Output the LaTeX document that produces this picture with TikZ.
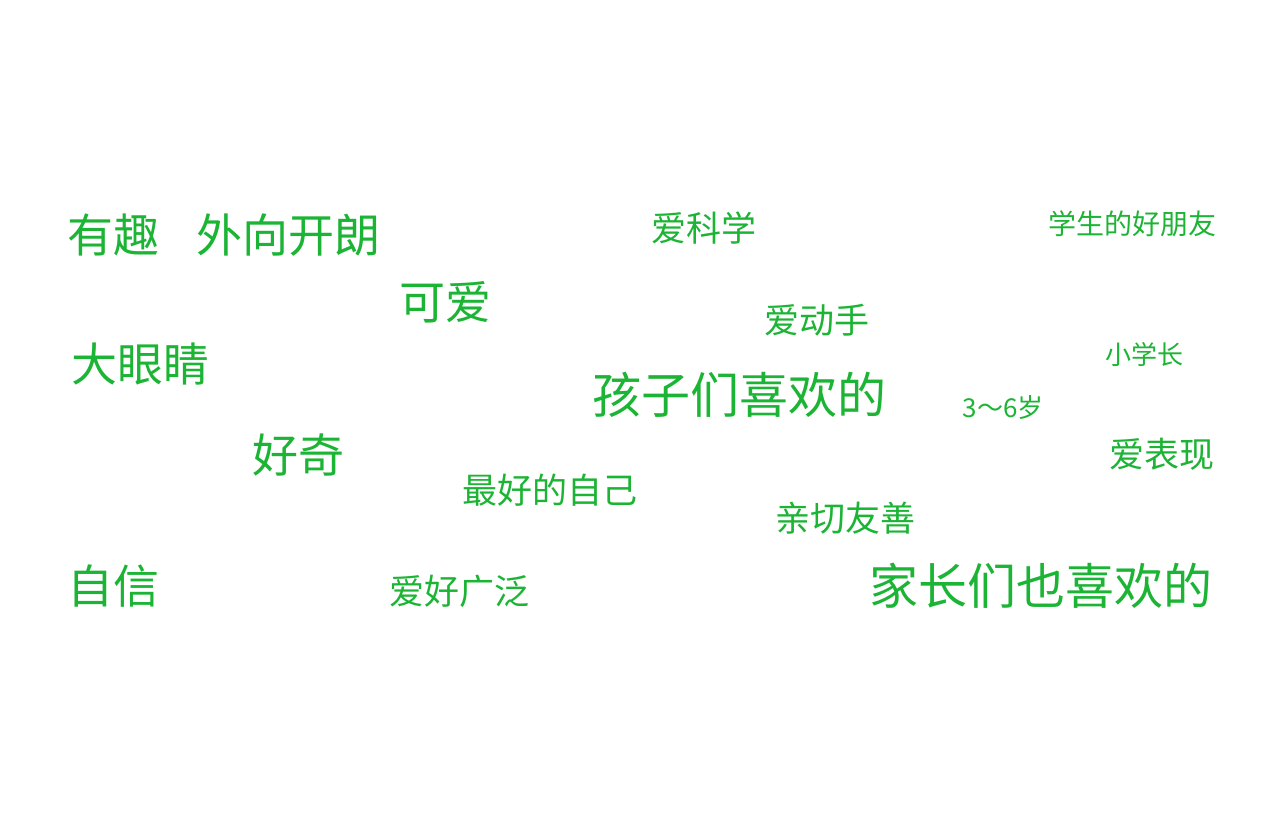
\documentclass[tikz,border=0pt]{standalone}
\usepackage{fontspec}
\newfontfamily\cjk{Noto Sans CJK SC}
\definecolor{wg}{RGB}{28,180,52}
\tikzset{w/.style={text=wg,inner sep=0pt,font=\cjk\fontsize{#1}{#1}\selectfont}}
\begin{document}
\begin{tikzpicture}[x=1pt,y=-1pt]
\useasboundingbox (0,0) rectangle (1280,819);
\node[w=46] (a) at (113,235) {有趣};
\node[w=46] (b) at (288,235) {外向开朗};
\node[w=35] (c) at (704,228) {爱科学};
\node[w=28] (d) at (1132,224) {学生的好朋友};
\node[w=46] (e) at (445,302) {可爱};
\node[w=35] (f) at (817,320) {爱动手};
\node[w=46] (g) at (140,364) {大眼睛};
\node[w=26] (h) at (1144,355) {小学长};
\node[w=49] (i) at (739,395) {孩子们喜欢的};
\node[w=26] (j) at (1003,408) {3～6岁};
\node[w=46] (k) at (298,455) {好奇};
\node[w=35] (l) at (1162,454) {爱表现};
\node[w=35] (m) at (550,490) {最好的自己};
\node[w=35] (n) at (845,518) {亲切友善};
\node[w=46] (o) at (113,586) {自信};
\node[w=35] (p) at (459,591) {爱好广泛};
\node[w=49] (q) at (1041,586) {家长们也喜欢的};
\end{tikzpicture}
\end{document}
